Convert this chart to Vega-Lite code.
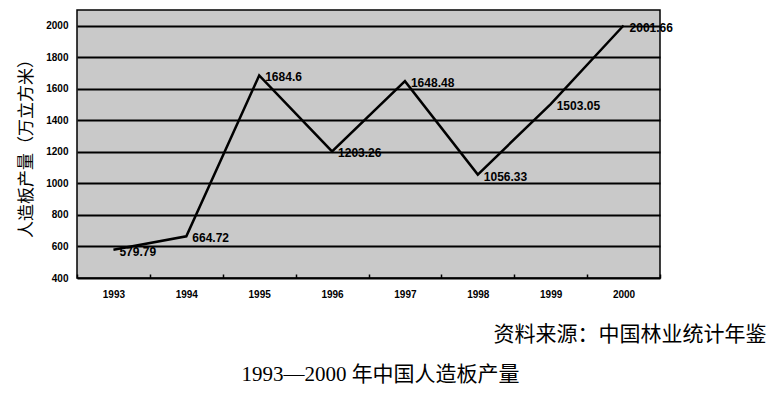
{
  "$schema": "https://vega.github.io/schema/vega-lite/v6.json",
  "autosize": "none",
  "width": 583,
  "height": 268,
  "padding": {"left": 77, "top": 10, "right": 112, "bottom": 115},
  "background": "white",
  "data": {"values": [
    {"year": "1993", "value": 579.79, "label": "579.79"},
    {"year": "1994", "value": 664.72, "label": "664.72"},
    {"year": "1995", "value": 1684.6, "label": "1684.6"},
    {"year": "1996", "value": 1203.26, "label": "1203.26"},
    {"year": "1997", "value": 1648.48, "label": "1648.48"},
    {"year": "1998", "value": 1056.33, "label": "1056.33"},
    {"year": "1999", "value": 1503.05, "label": "1503.05"},
    {"year": "2000", "value": 2001.66, "label": "2001.66"}
  ]},
  "title": {
    "text": "1993—2000 年中国人造板产量",
    "orient": "bottom",
    "anchor": "middle",
    "frame": "group",
    "dx": 12,
    "offset": 20,
    "font": "Liberation Serif, Noto Sans CJK SC",
    "fontSize": 21,
    "fontWeight": "normal",
    "color": "black"
  },
  "config": {
    "view": {"fill": "#c9c9c9", "stroke": "black", "strokeWidth": 1.5},
    "axis": {
      "labelFont": "Liberation Sans",
      "labelFontWeight": "bold",
      "labelFontSize": 10,
      "labelColor": "black",
      "titleColor": "black"
    }
  },
  "encoding": {
    "x": {
      "field": "year",
      "type": "ordinal",
      "scale": {"paddingInner": 0, "paddingOuter": 0},
      "axis": {
        "title": "资料来源：中国林业统计年鉴",
        "titleFont": "Noto Sans CJK SC",
        "titleFontSize": 21,
        "titleFontWeight": "normal",
        "titleAnchor": "end",
        "titleAlign": "right",
        "titleBaseline": "middle",
        "titleX": 689,
        "titleY": 56,
        "labelAngle": 0,
        "labelPadding": 15,
        "tickBand": "extent",
        "tickSize": -4,
        "tickColor": "black",
        "tickWidth": 1.5,
        "domain": false,
        "grid": false
      }
    },
    "y": {
      "field": "value",
      "type": "quantitative",
      "scale": {"domain": [400, 2100], "nice": false},
      "axis": {
        "title": "人造板产量（万立方米）",
        "titleFont": "Noto Sans CJK SC",
        "titleFontSize": 17,
        "titleFontWeight": "normal",
        "titlePadding": 10,
        "values": [400, 600, 800, 1000, 1200, 1400, 1600, 1800, 2000],
        "format": "d",
        "labelPadding": 9,
        "ticks": false,
        "domain": false,
        "grid": true,
        "gridColor": "black",
        "gridWidth": 2,
        "gridOpacity": 1
      }
    }
  },
  "layer": [
    {"mark": {"type": "line", "color": "black", "strokeWidth": 2.5}},
    {
      "mark": {"type": "text", "align": "left", "baseline": "middle", "dx": 6, "dy": 2, "font": "Liberation Sans", "fontWeight": "bold", "fontSize": 12, "color": "black"},
      "encoding": {"text": {"field": "label"}}
    }
  ]
}
